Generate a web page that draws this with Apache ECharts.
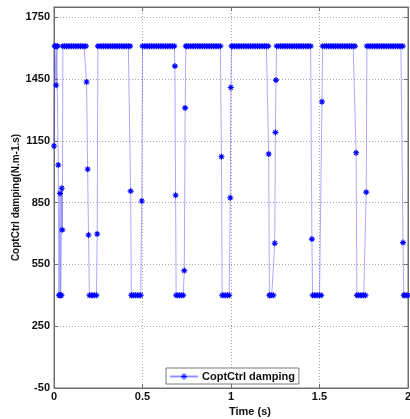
<!DOCTYPE html>
<html>
<head>
<meta charset="utf-8">
<script src="https://cdn.jsdelivr.net/npm/echarts@6/dist/echarts.min.js"></script>
<style>
  html, body { margin: 0; padding: 0; background: #ffffff; }
  #chart { width: 410px; height: 419px; }
</style>
</head>
<body>
<div id="chart"></div>
<script>
// Axis ranges and ticks
const xTicks = [0, 0.5, 1, 1.5, 2];
const yTicks = [-50, 250, 550, 850, 1150, 1450, 1750];
const yTop = 1800;

const seriesName = 'CoptCtrl damping';

// Controller damping samples: [time (s), damping (N.m-1.s)]
const dampingSamples = [
  // start-up
  [0.000, 1125], [0.004, 1610], [0.008, 1610], [0.012, 1420], [0.016, 1610],
  [0.020, 1610], [0.024, 1033], [0.028, 400], [0.032, 400], [0.034, 895],
  [0.038, 400], [0.042, 400], [0.044, 920], [0.047, 718], [0.050, 1610],
  // cycle 1
  [0.06, 1610], [0.07, 1610], [0.08, 1610], [0.09, 1610], [0.10, 1610],
  [0.11, 1610], [0.12, 1610], [0.13, 1610], [0.14, 1610], [0.15, 1610],
  [0.16, 1610], [0.17, 1610], [0.18, 1610],
  [0.184, 1436], [0.190, 1012], [0.195, 693],
  [0.200, 400], [0.21, 400], [0.22, 400], [0.23, 400], [0.24, 400],
  [0.244, 698], [0.248, 1610],
  // cycle 2
  [0.26, 1610], [0.27, 1610], [0.28, 1610], [0.29, 1610], [0.30, 1610],
  [0.31, 1610], [0.32, 1610], [0.33, 1610], [0.34, 1610], [0.35, 1610],
  [0.36, 1610], [0.37, 1610], [0.38, 1610], [0.39, 1610], [0.40, 1610],
  [0.41, 1610], [0.42, 1610], [0.43, 1610],
  [0.433, 906], [0.437, 400],
  [0.44, 400], [0.45, 400], [0.46, 400], [0.47, 400], [0.48, 400], [0.49, 400],
  [0.496, 858], [0.500, 1610],
  // cycle 3
  [0.51, 1610], [0.52, 1610], [0.53, 1610], [0.54, 1610], [0.55, 1610],
  [0.56, 1610], [0.57, 1610], [0.58, 1610], [0.59, 1610], [0.60, 1610],
  [0.61, 1610], [0.62, 1610], [0.63, 1610], [0.64, 1610], [0.65, 1610],
  [0.66, 1610], [0.67, 1610], [0.68, 1610],
  [0.683, 1513], [0.687, 886], [0.690, 400],
  [0.70, 400], [0.71, 400], [0.72, 400], [0.73, 400],
  [0.736, 520], [0.741, 1310], [0.745, 1610],
  // cycle 4
  [0.75, 1610], [0.76, 1610], [0.77, 1610], [0.78, 1610], [0.79, 1610],
  [0.80, 1610], [0.81, 1610], [0.82, 1610], [0.83, 1610], [0.84, 1610],
  [0.85, 1610], [0.86, 1610], [0.87, 1610], [0.88, 1610], [0.89, 1610],
  [0.90, 1610], [0.91, 1610], [0.92, 1610], [0.93, 1610], [0.94, 1610],
  [0.946, 1073], [0.950, 400],
  [0.96, 400], [0.97, 400], [0.98, 400], [0.99, 400],
  [0.996, 874], [0.999, 1409], [1.003, 1610],
  // cycle 5
  [1.01, 1610], [1.02, 1610], [1.03, 1610], [1.04, 1610], [1.05, 1610],
  [1.06, 1610], [1.07, 1610], [1.08, 1610], [1.09, 1610], [1.10, 1610],
  [1.11, 1610], [1.12, 1610], [1.13, 1610], [1.14, 1610], [1.15, 1610],
  [1.16, 1610], [1.17, 1610], [1.18, 1610], [1.19, 1610], [1.20, 1610],
  [1.21, 1610],
  [1.213, 1086], [1.217, 400],
  [1.22, 400], [1.23, 400], [1.24, 400],
  [1.247, 653], [1.251, 1191], [1.254, 1445], [1.258, 1610],
  // cycle 6
  [1.27, 1610], [1.28, 1610], [1.29, 1610], [1.30, 1610], [1.31, 1610],
  [1.32, 1610], [1.33, 1610], [1.34, 1610], [1.35, 1610], [1.36, 1610],
  [1.37, 1610], [1.38, 1610], [1.39, 1610], [1.40, 1610], [1.41, 1610],
  [1.42, 1610], [1.43, 1610], [1.44, 1610], [1.45, 1610],
  [1.457, 673], [1.461, 400],
  [1.47, 400], [1.48, 400], [1.49, 400], [1.50, 400], [1.51, 400],
  [1.514, 1340], [1.518, 1610],
  // cycle 7
  [1.53, 1610], [1.54, 1610], [1.55, 1610], [1.56, 1610], [1.57, 1610],
  [1.58, 1610], [1.59, 1610], [1.60, 1610], [1.61, 1610], [1.62, 1610],
  [1.63, 1610], [1.64, 1610], [1.65, 1610], [1.66, 1610], [1.67, 1610],
  [1.68, 1610], [1.69, 1610], [1.70, 1610],
  [1.707, 1092], [1.711, 400],
  [1.72, 400], [1.73, 400], [1.74, 400], [1.75, 400], [1.76, 400],
  [1.764, 901], [1.768, 1610],
  // cycle 8
  [1.78, 1610], [1.79, 1610], [1.80, 1610], [1.81, 1610], [1.82, 1610],
  [1.83, 1610], [1.84, 1610], [1.85, 1610], [1.86, 1610], [1.87, 1610],
  [1.88, 1610], [1.89, 1610], [1.90, 1610], [1.91, 1610], [1.92, 1610],
  [1.93, 1610], [1.94, 1610], [1.95, 1610], [1.96, 1610], [1.97, 1610],
  [1.972, 656], [1.976, 400],
  [1.98, 400], [1.99, 400], [2.00, 400]
];

// Asterisk marker drawn as stroked segments
const asterisk = 'path://M5,0L5,10M0,5L10,5M1.6,1.6L8.4,8.4M1.6,8.4L8.4,1.6';

const font = 'Liberation Sans, Arial, sans-serif';
const frame = '#6e6e6e';
const gridDots = { color: '#a8a8a8', type: [1, 2], width: 1 };
const labelText = { color: '#111', fontFamily: font, fontWeight: 'bold', fontSize: 11 };
const plainNumber = v => String(v);

const chart = echarts.init(document.getElementById('chart'), null, { renderer: 'canvas' });

chart.setOption({
  animation: false,
  backgroundColor: '#ffffff',
  grid: {
    left: 54, right: 2, top: 7, bottom: 31,
    outerBoundsMode: 'none', containLabel: false,
    show: true, borderColor: frame, borderWidth: 1, backgroundColor: 'transparent'
  },
  legend: {
    data: [seriesName],
    left: 166, top: 368,
    padding: [3, 4, 2, 3],
    itemWidth: 28, itemHeight: 8, itemGap: 4,
    itemStyle: { color: '#0000ff', borderColor: '#0000ff', borderWidth: 1 },
    borderColor: '#7a7a7a', borderWidth: 1, backgroundColor: '#ffffff',
    textStyle: Object.assign({}, labelText, { padding: [0, 0, 0, -1] })
  },
  xAxis: [
    {
      type: 'value', min: xTicks[0], max: xTicks[xTicks.length - 1],
      interval: xTicks[1] - xTicks[0],
      axisLine: { show: true, onZero: false, lineStyle: { color: frame } },
      axisTick: { show: true, inside: true, length: 4, lineStyle: { color: frame } },
      axisLabel: Object.assign({ margin: 3, formatter: plainNumber }, labelText),
      splitLine: { show: true, lineStyle: gridDots },
      name: 'Time (s)', nameLocation: 'middle', nameGap: 18, nameMoveOverlap: false,
      nameTextStyle: Object.assign({ padding: [0, 0, 0, 38] }, labelText)
    },
    {
      type: 'value', position: 'top', min: xTicks[0], max: xTicks[xTicks.length - 1],
      interval: xTicks[1] - xTicks[0],
      axisLine: { show: true, onZero: false, lineStyle: { color: frame } },
      axisTick: { show: true, inside: true, length: 4, lineStyle: { color: frame } },
      axisLabel: { show: false }, splitLine: { show: false }
    }
  ],
  yAxis: [
    {
      type: 'value', min: yTicks[0], max: yTop, interval: yTicks[1] - yTicks[0],
      axisLine: { show: true, onZero: false, lineStyle: { color: frame } },
      axisTick: { show: true, inside: true, length: 4, lineStyle: { color: frame } },
      axisLabel: Object.assign({ margin: 4, showMaxLabel: false, formatter: plainNumber }, labelText),
      splitLine: { show: true, lineStyle: gridDots },
      name: 'CoptCtrl damping(N.m-1.s)', nameLocation: 'middle', nameGap: 33,
      nameMoveOverlap: false, nameRotate: 90,
      nameTextStyle: { color: '#111', fontFamily: font, fontWeight: 'bold', fontSize: 10 }
    },
    {
      type: 'value', position: 'right', min: yTicks[0], max: yTop, interval: yTicks[1] - yTicks[0],
      axisLine: { show: true, onZero: false, lineStyle: { color: frame } },
      axisTick: { show: true, inside: true, length: 4, lineStyle: { color: frame } },
      axisLabel: { show: false }, splitLine: { show: false }
    }
  ],
  series: [
    {
      name: seriesName,
      type: 'line',
      xAxisIndex: 0, yAxisIndex: 0,
      data: dampingSamples,
      showSymbol: true, showAllSymbol: true,
      symbol: asterisk, symbolSize: 6,
      lineStyle: { color: '#3b3bff', width: 0.8, opacity: 0.55 },
      itemStyle: { color: '#0000ff', borderColor: '#0000ff', borderWidth: 1.1 },
      emphasis: { disabled: true },
      z: 3
    }
  ]
});
</script>
</body>
</html>
